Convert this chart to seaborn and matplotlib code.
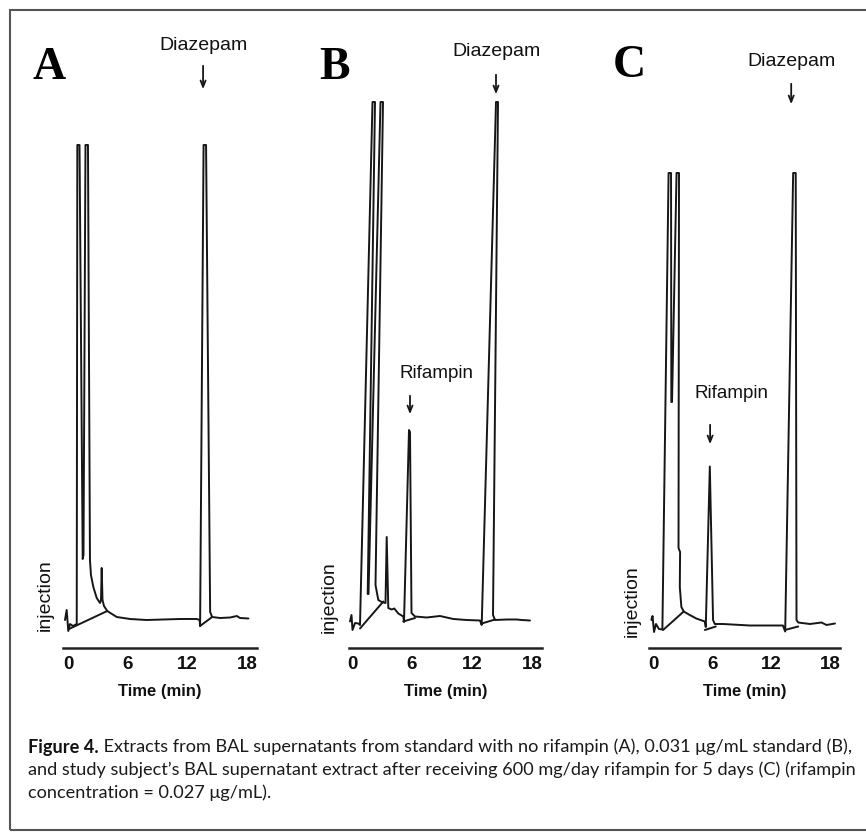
import matplotlib
matplotlib.use("Agg")
import matplotlib.pyplot as plt
import seaborn as sns
import pandas as pd
from matplotlib.patches import Rectangle

# ---------------- data ----------------
tick_values = [0, 6, 12, 18]
tick_labels = ["0", "6", "12", "18"]
panel_letters = ["A", "B", "C"]

# Panel A trace (time in min, detector response in arbitrary units)
a_time = [-0.30, -0.13, 0.03, 0.20, 0.50, 0.88, 0.94, 1.16, 1.48, 1.56, 1.76, 2.01, 2.21, 2.31,
          2.55, 2.89, 3.22, 3.32, 3.39, 3.47, 3.62, 3.95, 4.90, 6.24, 7.90, 9.56, 11.27, 12.95,
          13.23, 13.28, 13.63, 13.88, 14.29, 14.49, 15.29, 16.30, 16.97, 17.30, 18.14]
a_signal = [5.6, 7.6, 3.4, 4.8, 4.4, 4.8, 100.6, 100.6, 17.8, 18.6, 100.6, 100.6, 17.6, 14.6,
            12.2, 10.0, 9.0, 9.6, 16.0, 9.6, 8.4, 7.4, 6.2, 5.8, 5.6, 5.7, 5.8, 5.8,
            5.6, 4.4, 100.6, 100.6, 7.2, 6.2, 6.0, 6.1, 6.4, 6.0, 5.9]
a_int1_time = [0.10, 3.95]
a_int1_signal = [3.8, 7.4]
a_int2_time = [13.28, 14.49]
a_int2_signal = [4.4, 6.2]

# Panel B trace
b_time = [-0.20, -0.05, 0.05, 0.30, 0.63, 0.80, 2.05, 2.30, 1.57, 1.65, 2.85, 3.10, 2.35, 2.63,
          2.97, 3.35, 3.47, 3.63, 3.97, 4.23, 4.63, 5.13, 5.20, 5.70, 5.80, 5.95, 6.30, 7.47,
          8.80, 10.13, 11.47, 12.80, 12.97, 14.40, 14.60, 14.10, 14.30, 15.47, 16.47, 16.97, 17.80]
b_signal = [5.3, 6.6, 3.6, 5.0, 4.9, 4.6, 109.2, 109.2, 10.8, 10.8, 109.2, 109.2, 12.6, 9.6,
            9.2, 9.0, 22.2, 8.0, 7.7, 7.9, 6.9, 6.3, 5.2, 43.6, 43.2, 7.0, 6.3, 6.1,
            6.4, 5.8, 5.6, 5.5, 4.6, 109.2, 109.2, 6.6, 5.6, 5.7, 5.7, 5.6, 5.5]
b_int1_time = [0.80, 3.13]
b_int1_signal = [3.9, 9.3]
b_int2_time = [5.13, 6.30]
b_int2_signal = [5.3, 6.0]
b_int3_time = [12.97, 14.30]
b_int3_signal = [4.9, 5.7]

# Panel C trace
c_time = [-0.17, -0.05, 0.10, 0.30, 0.60, 0.95, 1.58, 1.83, 1.86, 1.93, 2.39, 2.64, 2.59, 2.75,
          2.72, 2.88, 3.12, 3.73, 4.40, 5.26, 5.36, 5.77, 6.10, 6.28, 7.12, 9.84, 13.20, 13.43,
          14.24, 14.50, 14.58, 14.75, 15.94, 17.12, 17.63, 18.49]
c_signal = [5.6, 6.4, 3.2, 4.8, 3.8, 3.7, 95.0, 95.0, 49.2, 49.2, 95.0, 95.0, 20.0, 19.2,
            12.2, 8.2, 7.3, 6.6, 5.9, 5.3, 4.2, 36.3, 5.6, 4.8, 4.8, 4.5, 4.5, 3.3,
            95.0, 95.0, 5.6, 5.1, 4.8, 5.1, 4.6, 4.9]
c_int1_time = [1.02, 3.12]
c_int1_signal = [3.6, 7.3]
c_int2_time = [5.26, 6.38]
c_int2_signal = [3.6, 4.3]
c_int3_time = [13.40, 14.75]
c_int3_signal = [3.6, 4.3]

# annotations: Diazepam (text x, text y, arrow tail y, arrow tip y)
diazepam_marks = [(13.58, 120.6, 117.0, 111.2), (14.40, 119.2, 115.2, 110.2), (14.04, 117.4, 113.4, 108.2)]
# Rifampin (text x, text y, arrow x, arrow tail y, arrow tip y)
rifampin_marks = [None, (8.45, 55.0, 5.80, 51.0, 46.2), (7.93, 50.8, 5.80, 45.2, 40.2)]

caption_bold = "Figure 4."
caption_lines = [
    " Extracts from BAL supernatants from standard with no rifampin (A), 0.031 \u03bcg/mL standard (B),",
    "and study subject\u2019s BAL supernatant extract after receiving 600 mg/day rifampin for 5 days (C) (rifampin",
    "concentration = 0.027 \u03bcg/mL).",
]

# ---------------- layout ----------------
W, H, DPI = 866, 833, 100
sns.set_style("white")
plt.rcParams["font.family"] = ["Liberation Sans", "DejaVu Sans"]

fig = plt.figure(figsize=(W / DPI, H / DPI), dpi=DPI)
fig.patch.set_facecolor("white")


def fx(px):
    return px / W


def fy(py):
    return 1 - py / H


panels = [
    dict(left=63, right=257, xlim=(-0.50, 19.0), trace=(a_time, a_signal),
         ints=[(a_int1_time, a_int1_signal), (a_int2_time, a_int2_signal)],
         inj=(-0.093, 10.6), letter=(49, 68)),
    dict(left=349, right=542, xlim=(-0.30, 19.0), trace=(b_time, b_signal),
         ints=[(b_int1_time, b_int1_signal), (b_int2_time, b_int2_signal), (b_int3_time, b_int3_signal)],
         inj=(-0.104, 10.2), letter=(334, 68)),
    dict(left=649, right=840, xlim=(-0.41, 19.0), trace=(c_time, c_signal),
         ints=[(c_int1_time, c_int1_signal), (c_int2_time, c_int2_signal), (c_int3_time, c_int3_signal)],
         inj=(-0.089, 9.4), letter=(629, 66)),
]

TOP, BOTTOM = 98, 648
ink = "#161616"
arrow_style = "->,head_length=0.45,head_width=0.18"

for i, p in enumerate(panels):
    ax = fig.add_axes([fx(p["left"]), fy(BOTTOM), (p["right"] - p["left"]) / W, (BOTTOM - TOP) / H])
    ax.set_facecolor("none")
    rows = []
    tt, ss = p["trace"]
    for t, s in zip(tt, ss):
        rows.append(dict(time=t, signal=s, seg="trace"))
    for k, (it, isg) in enumerate(p["ints"]):
        for t, s in zip(it, isg):
            rows.append(dict(time=t, signal=s, seg=f"int{k}"))
    df = pd.DataFrame(rows)
    sns.lineplot(data=df, x="time", y="signal", units="seg", estimator=None, sort=False,
                 color=ink, linewidth=1.4, ax=ax, legend=False)
    ax.set_xlim(*p["xlim"])
    ax.set_ylim(0, 110)
    for side in ["top", "right", "left"]:
        ax.spines[side].set_visible(False)
    ax.spines["bottom"].set_linewidth(1.8)
    ax.spines["bottom"].set_color("#222222")
    ax.set_yticks([])
    ax.set_xticks(tick_values)
    ax.set_xticklabels(tick_labels, fontsize=13.5, fontweight="bold", color="#111111")
    ax.tick_params(axis="x", length=0, pad=6)
    ax.set_xlabel("Time (min)", fontsize=12, fontweight="bold", color="#111111", labelpad=8)
    ax.set_ylabel("")
    ax.text(p["inj"][0], p["inj"][1], "injection", rotation=90, ha="center", va="center",
            fontsize=14, color="#111111", transform=ax.get_yaxis_transform(), clip_on=False)

    dx, dty, dtail, dtip = diazepam_marks[i]
    ax.text(dx, dty, "Diazepam", ha="center", va="center", fontsize=14, color="#111111", clip_on=False)
    ax.annotate("", xy=(dx, dtip), xytext=(dx, dtail), annotation_clip=False,
                arrowprops=dict(arrowstyle=arrow_style, color=ink, lw=1.3))
    if rifampin_marks[i] is not None:
        rx, ry, arx, rtail, rtip = rifampin_marks[i]
        ax.text(rx, ry, "Rifampin", ha="center", va="center", fontsize=13.5, color="#111111", clip_on=False)
        ax.annotate("", xy=(arx, rtip), xytext=(arx, rtail), annotation_clip=False,
                    arrowprops=dict(arrowstyle=arrow_style, color=ink, lw=1.3))

    lx, ly = p["letter"]
    fig.text(fx(lx), fy(ly), panel_letters[i], ha="center", va="center", fontsize=33,
             fontweight="bold", family=["Liberation Serif", "DejaVu Serif"], color="black")

# frame
fig.add_artist(Rectangle((fx(10), fy(830)), 1.2, fy(10) - fy(830), transform=fig.transFigure,
                         fill=False, edgecolor="#555555", linewidth=1.5))

# caption: fit the first line to the reference width (28 px .. 855 px)
cap_family = ["Lato", "Liberation Sans", "DejaVu Sans"]
fig.canvas.draw()
renderer = fig.canvas.get_renderer()
probe_size = 14.0
pb = fig.text(0, 0, caption_bold, fontsize=probe_size, fontweight="bold", family=cap_family)
pr = fig.text(0, 0, caption_lines[0], fontsize=probe_size, family=cap_family)
pr2 = fig.text(0, 0, caption_lines[1], fontsize=probe_size, family=cap_family)
w1 = pb.get_window_extent(renderer).width + pr.get_window_extent(renderer).width
w2 = pr2.get_window_extent(renderer).width
pb.remove(); pr.remove(); pr2.remove()
cap_size = probe_size * min(827.0 / w1, 829.0 / w2)

t0 = fig.text(fx(28), fy(747), caption_bold, ha="left", va="center", fontsize=cap_size,
              fontweight="bold", family=cap_family, color="#111111")
bb = t0.get_window_extent(renderer)
fig.text(bb.x1 / W, fy(747), caption_lines[0], ha="left", va="center", fontsize=cap_size,
         family=cap_family, color="#1a1a1a")
fig.text(fx(28), fy(770), caption_lines[1], ha="left", va="center", fontsize=cap_size,
         family=cap_family, color="#1a1a1a")
fig.text(fx(28), fy(793), caption_lines[2], ha="left", va="center", fontsize=cap_size,
         family=cap_family, color="#1a1a1a")

fig.savefig("out.png", dpi=DPI, facecolor="white")
